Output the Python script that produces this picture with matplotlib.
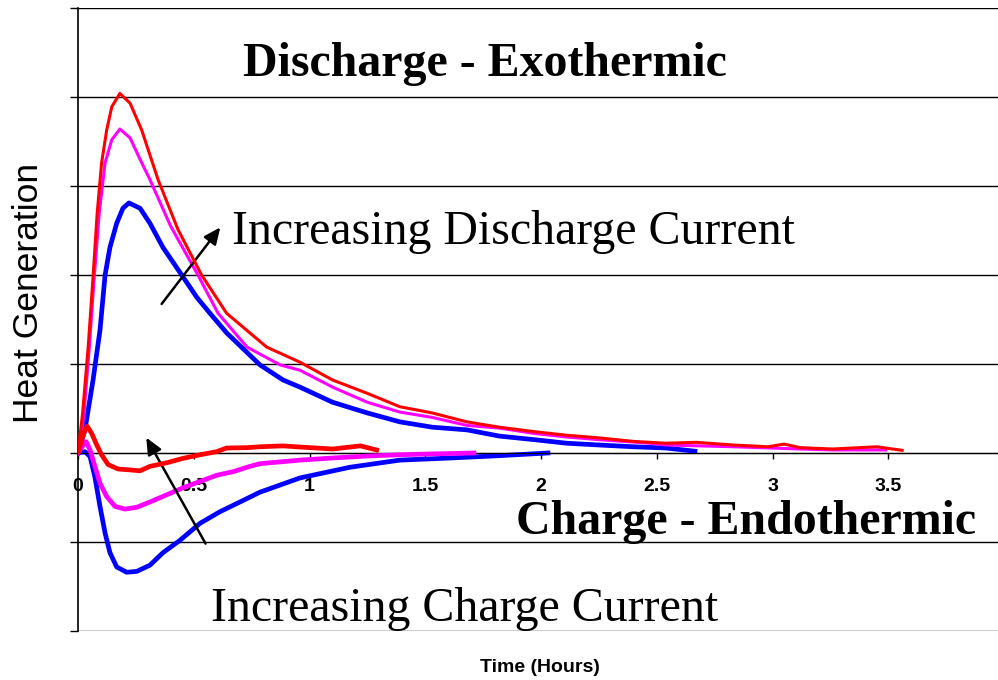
import numpy as np
import matplotlib
matplotlib.use("Agg")
import matplotlib.pyplot as plt
from matplotlib.ticker import FixedLocator, FuncFormatter

###########################
# data (time in hours, heat generation in grid units)

# discharge curves
dis_red_t = [0, 0.020, 0.044, 0.064, 0.083, 0.102, 0.124, 0.146, 0.181, 0.225, 0.275, 0.346, 0.432, 0.534, 0.642,
             0.815, 0.959, 1.10, 1.25, 1.39, 1.53, 1.68, 1.82, 1.97, 2.11, 2.25, 2.40, 2.54, 2.67, 2.83, 2.98,
             3.05, 3.12, 3.26, 3.45, 3.56]
dis_red_q = [0, 0.45, 1.19, 1.94, 2.70, 3.26, 3.63, 3.89, 4.04, 3.93, 3.63, 3.07, 2.51, 2.0, 1.57,
             1.19, 1.02, 0.82, 0.67, 0.52, 0.45, 0.35, 0.29, 0.24, 0.20, 0.17, 0.13, 0.11, 0.12, 0.09, 0.07,
             0.10, 0.06, 0.045, 0.07, 0.03]

dis_mag_t = [0, 0.009, 0.026, 0.049, 0.069, 0.092, 0.117, 0.146, 0.181, 0.225, 0.268, 0.311, 0.40, 0.518, 0.605,
             0.730, 0.873, 0.959, 1.10, 1.25, 1.39, 1.53, 1.68, 1.82, 1.97, 2.11, 2.25, 2.47, 2.54, 2.83, 3.12,
             3.26, 3.49]
dis_mag_q = [0, 0.07, 0.45, 1.19, 1.94, 2.70, 3.26, 3.52, 3.64, 3.54, 3.30, 3.07, 2.55, 2.0, 1.57,
             1.19, 0.99, 0.93, 0.74, 0.57, 0.46, 0.40, 0.31, 0.28, 0.22, 0.18, 0.15, 0.11, 0.09, 0.07, 0.045,
             0.034, 0.034]

dis_blu_t = [0, 0.030, 0.065, 0.095, 0.117, 0.138, 0.167, 0.194, 0.220, 0.268, 0.311, 0.367, 0.448, 0.513, 0.570,
             0.642, 0.786, 0.886, 0.959, 1.10, 1.25, 1.39, 1.53, 1.68, 1.82, 1.97, 2.11, 2.25, 2.40, 2.54, 2.665]
dis_blu_q = [0, 0.26, 0.82, 1.38, 2.0, 2.31, 2.58, 2.75, 2.81, 2.75, 2.58, 2.31, 2.0, 1.75, 1.57,
             1.35, 0.99, 0.82, 0.74, 0.57, 0.45, 0.35, 0.29, 0.26, 0.19, 0.15, 0.11, 0.09, 0.07, 0.056, 0.02]

# charge curves
chg_red_t = [0.001, 0.016, 0.030, 0.040, 0.059, 0.081, 0.102, 0.130, 0.173, 0.225, 0.268, 0.311, 0.383, 0.454,
             0.527, 0.599, 0.642, 0.729, 0.786, 0.886, 0.959, 1.10, 1.22, 1.29]
chg_red_q = [0.015, 0.146, 0.26, 0.30, 0.22, 0.09, -0.02, -0.13, -0.18, -0.19, -0.20, -0.15, -0.11, -0.06,
             -0.02, 0.015, 0.056, 0.06, 0.07, 0.08, 0.067, 0.045, 0.08, 0.034]

chg_mag_t = [0, 0.023, 0.035, 0.052, 0.073, 0.095, 0.124, 0.160, 0.203, 0.254, 0.311, 0.383, 0.454, 0.527,
             0.599, 0.670, 0.743, 0.786, 0.959, 1.10, 1.25, 1.39, 1.53, 1.71]
chg_mag_q = [0, 0.09, 0.127, 0.034, -0.15, -0.34, -0.49, -0.60, -0.63, -0.61, -0.55, -0.47, -0.39, -0.32,
             -0.25, -0.21, -0.15, -0.12, -0.08, -0.056, -0.034, -0.02, -0.01, 0]

chg_blu_t = [0, 0.030, 0.052, 0.073, 0.095, 0.117, 0.138, 0.167, 0.210, 0.254, 0.311, 0.367, 0.441, 0.527,
             0.613, 0.700, 0.786, 0.959, 1.175, 1.39, 1.61, 1.82, 2.03]
chg_blu_q = [0, 0.015, -0.04, -0.27, -0.60, -0.90, -1.12, -1.28, -1.34, -1.33, -1.26, -1.12, -0.98, -0.79,
             -0.66, -0.55, -0.44, -0.28, -0.16, -0.08, -0.056, -0.03, 0]

x_ticks = [0, 0.5, 1, 1.5, 2, 2.5, 3, 3.5, 4]
y_grid = [-2, -1, 0, 1, 2, 3, 4, 5]

###########################
# figure

fig = plt.figure(figsize=(9.98, 6.8), dpi=100)
ax = fig.add_axes([78 / 998, 1 - 631 / 680, 926 / 998, 623 / 680])
ax.set_xlim(0, 4)
ax.set_ylim(-2, 5)

for yv in y_grid:
    ax.axhline(yv, color="black", lw=1.0, zorder=1)

ax.plot(dis_red_t, dis_red_q, color="#ff0000", lw=2.2, zorder=4)
ax.plot(dis_mag_t, dis_mag_q, color="#ff00ff", lw=2.2, zorder=3)
ax.plot(dis_blu_t, dis_blu_q, color="#0000ff", lw=3.4, zorder=2)
ax.plot(chg_red_t, chg_red_q, color="#ff0000", lw=3.4, zorder=4)
ax.plot(chg_mag_t, chg_mag_q, color="#ff00ff", lw=3.4, zorder=3)
ax.plot(chg_blu_t, chg_blu_q, color="#0000ff", lw=3.4, zorder=2)

# spines / ticks
ax.spines["top"].set_visible(False)
ax.spines["right"].set_visible(False)
ax.spines["bottom"].set_position(("data", 0))
ax.spines["left"].set_linewidth(1.2)
ax.xaxis.set_major_locator(FixedLocator(x_ticks))
ax.xaxis.set_major_formatter(FuncFormatter(lambda v, p: "%g" % v))
ax.yaxis.set_major_locator(FixedLocator(y_grid))
ax.set_yticklabels([])
ax.tick_params(axis="y", direction="out", length=6, width=1)
ax.tick_params(axis="x", direction="out", length=4, width=1, pad=14)
for lab in ax.get_xticklabels():
    lab.set_fontfamily("Liberation Sans")
    lab.set_fontweight("bold")
    lab.set_fontsize(14)

# annotations
serif = "Liberation Serif"
ax.text(1.758, 4.37, "Discharge - Exothermic", ha="center", va="center",
        fontsize=34.5, fontweight="bold", family=serif)
ax.text(0.665, 2.485, "Increasing Discharge Current", ha="left", va="center",
        fontsize=34.5, family=serif)
ax.text(2.886, -0.775, "Charge - Endothermic", ha="center", va="center",
        fontsize=34.5, fontweight="bold", family=serif)
ax.text(1.672, -1.755, "Increasing Charge Current", ha="center", va="center",
        fontsize=34.5, family=serif)

arrow = dict(arrowstyle="-|>,head_length=1.0,head_width=0.45", color="black", lw=1.8)
ax.annotate("", xy=(0.622, 2.56), xytext=(0.354, 1.65), arrowprops=arrow)
ax.annotate("", xy=(0.289, 0.20), xytext=(0.557, -1.045), arrowprops=arrow)

fig.text(29 / 998, 1 - 293 / 680, "Heat Generation", rotation=90, ha="center",
         va="center", fontsize=25.5, family="Liberation Sans")
fig.text(540 / 998, 1 - 668 / 680, "Time (Hours)", ha="center", va="center",
         fontsize=14, fontweight="bold", family="Liberation Sans")

fig.savefig("out.png", dpi=100)
